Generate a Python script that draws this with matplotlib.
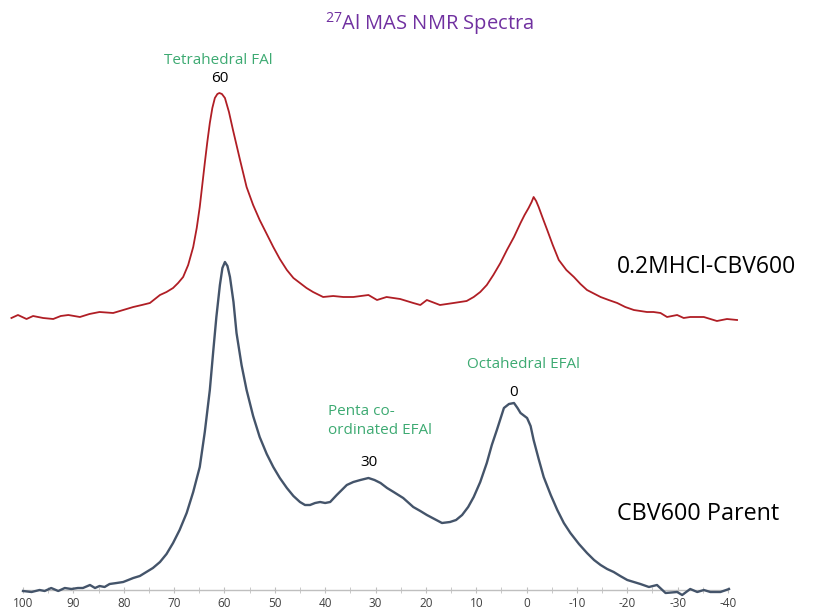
import matplotlib
matplotlib.use("Agg")
import matplotlib.pyplot as plt

# ---- data (chemical shift in ppm, intensity in arbitrary units) ----
parent_ppm = [100, 98.3, 96.7, 95.7, 94.4, 93.0, 91.7, 90.4, 89.1, 88.1, 86.7, 85.7, 84.8,
              83.8, 82.8, 81.4, 80.1, 79.1, 78.1, 76.8, 75.5, 74.2, 72.8, 71.5, 70.2, 68.9,
              67.5, 66.2, 64.9, 63.9, 62.9, 62.2, 61.6, 60.9, 60.4, 59.9, 59.4, 58.9, 58.2,
              57.6, 56.6, 55.6, 54.3, 53, 51.6, 50.3, 49.0, 47.6, 46.3, 45, 44.0, 43, 42.0,
              41, 40.0, 39, 37.7, 36.7, 35.7, 34.4, 33, 31.4, 30.2, 29, 27.7, 26.4, 24.5,
              22.5, 21.1, 19.8, 18.3, 16.8, 15.2, 14.0, 12.8, 11.6, 10.5, 9.2, 7.9, 6.9,
              5.9, 4.5, 3.5, 2.5, 1.8, 1.2, -0.1, -0.8, -1.4, -2.4, -3.4, -4.8, -6.1, -7.4,
              -8.7, -10.4, -12, -13.4, -14.7, -16, -17.3, -18.6, -20, -21.3, -22.6, -24.3,
              -25.9, -27.6, -29.9, -30.9, -32.5, -33.9, -35.2, -36.5, -38.5, -40.2]
parent_int = [-1, -2, 0, -1, 2, -1, 2, 1, 2, 2, 5, 2, 4, 3, 6, 7, 8, 10, 12, 14, 18, 22,
              28, 36, 47, 60, 77, 98, 123, 158, 200, 240, 273, 305, 322, 328, 324, 313,
              288, 257, 225, 200, 174, 153, 136, 123, 112, 102, 94, 88, 85, 85, 87, 88,
              87, 88, 95, 100, 105, 108, 110, 112, 110, 107, 102, 98, 92, 83, 79, 75, 71,
              67, 68, 70, 75, 83, 93, 108, 127, 145, 160, 182, 186, 187, 182, 177, 172,
              164, 150, 131, 113, 95, 80, 67, 57, 46, 37, 30, 25, 21, 18, 14, 10, 8, 6,
              3, 5, -3, -2, -5, 1, -2, 0, -2, -2, 1]

hcl_ppm = [102.3, 101, 99.3, 98, 96, 94, 92.5, 91, 88.7, 86.8, 84.8, 82.1, 80.1, 78.1,
           76.4, 74.8, 72.8, 71.5, 70.2, 69.2, 68.2, 67.2, 66.2, 65.5, 64.9, 64.4, 63.9,
           63.4, 62.9, 62.4, 61.9, 61.4, 61, 60.5, 59.9, 59.1, 58.3, 57.6, 56.9, 55.6,
           54.3, 53, 51.6, 50.3, 49.0, 47.6, 46.3, 45, 43.7, 42.4, 40.4, 38.4, 36.4,
           34.4, 32.9, 31.4, 29.7, 27.8, 25.1, 22.5, 21.1, 19.8, 17.2, 14.5, 11.9, 10.5,
           9.2, 7.9, 6.6, 5.2, 3.9, 2.5, 1.2, 0.4, -0.4, -1.0, -1.4, -1.9, -2.4, -3.2,
           -4.1, -5.2, -6.4, -7.9, -9.4, -10.7, -12, -14.7, -16.3, -18, -19.6, -21.3,
           -23.9, -25.2, -26.6, -27.9, -29.9, -31.2, -32.5, -35.2, -37.8, -39.8, -41.8]
hcl_int = [272, 275, 271, 274, 272, 271, 274, 275, 273, 276, 278, 277, 280, 283, 285, 287,
           295, 298, 302, 307, 313, 325, 343, 362, 383, 405, 427, 448, 467, 482, 492, 496,
           497, 496, 492, 478, 460, 445, 430, 403, 385, 370, 356, 343, 331, 320, 312, 307,
           302, 298, 293, 294, 293, 293, 294, 295, 290, 293, 291, 287, 285, 290, 285, 287,
           289, 293, 298, 305, 315, 327, 340, 353, 367, 375, 382, 388, 393, 389, 383, 372,
           360, 345, 330, 320, 313, 306, 300, 293, 290, 287, 283, 280, 278, 278, 277, 273,
           275, 272, 273, 273, 269, 271, 270]

x_ticks = [100, 90, 80, 70, 60, 50, 40, 30, 20, 10, 0, -10, -20, -30, -40]
x_tick_labels = ["100", "90", "80", "70", "60", "50", "40", "30", "20", "10", "0",
                 "-10", "-20", "-30", "-40"]

title_text = "$^{27}$Al MAS NMR Spectra"
series_labels = ["0.2MHCl-CBV600", "CBV600 Parent"]
peak_names = ["Tetrahedral FAl", "Penta co-\nordinated EFAl", "Octahedral EFAl"]
peak_values = ["60", "30", "0"]

# ---- style ----
plt.rcParams['font.family'] = ['Open Sans', 'DejaVu Sans']
plt.rcParams['mathtext.fontset'] = 'custom'
plt.rcParams['mathtext.rm'] = 'Open Sans'
W, H = 818, 609
fig = plt.figure(figsize=(W / 100, H / 100), dpi=100)
ax = fig.add_axes([23 / W, 9 / H, (728 - 23) / W, 560 / H])

red = "#B01E25"
slate = "#44546A"
green = "#3DAA72"
purple = "#7030A0"

ax.plot(hcl_ppm, hcl_int, color=red, lw=1.3, clip_on=False, zorder=3)
ax.plot(parent_ppm, parent_int, color=slate, lw=1.7, clip_on=False, zorder=3)

ax.set_xlim(100, -40)
ax.set_ylim(-10, 550)
for s in ["left", "right", "top"]:
    ax.spines[s].set_visible(False)
ax.spines["bottom"].set_position(("data", 0))
ax.spines["bottom"].set_color("#BFBFBF")
ax.spines["bottom"].set_linewidth(1.0)
ax.set_yticks([])
ax.set_xticks(x_ticks)
ax.set_xticklabels(x_tick_labels)
ax.set_xticks([v - 5 for v in x_ticks[:-1]], minor=True)
ax.tick_params(axis="x", which="both", direction="inout", length=5, color="#BFBFBF",
               labelsize=8.5, labelcolor="#404040", pad=2.5)

# title
fig.text(430 / W, 1 - 24 / H, title_text, color=purple, fontsize=14.5,
         ha="center", va="center")

# peak annotations
fs_small = 11
ax.text(61.3, 530, peak_names[0], color=green, fontsize=fs_small, ha="center", va="center")
ax.text(60.9, 512, peak_values[0], color="black", fontsize=fs_small, ha="center", va="center")
ax.text(39.4, 169, peak_names[1], color=green, fontsize=fs_small, ha="left", va="center",
        linespacing=1.3)
ax.text(31.2, 127, peak_values[1], color="black", fontsize=fs_small, ha="center", va="center")
ax.text(0.7, 225, peak_names[2], color=green, fontsize=fs_small, ha="center", va="center")
ax.text(2.5, 197, peak_values[2], color="black", fontsize=fs_small, ha="center", va="center")

# series labels
ax.text(-18.0, 323, series_labels[0], color="black", fontsize=16.5, ha="left", va="center")
ax.text(-18.0, 76, series_labels[1], color="black", fontsize=16.8, ha="left", va="center")

fig.savefig("out.png", dpi=100)
